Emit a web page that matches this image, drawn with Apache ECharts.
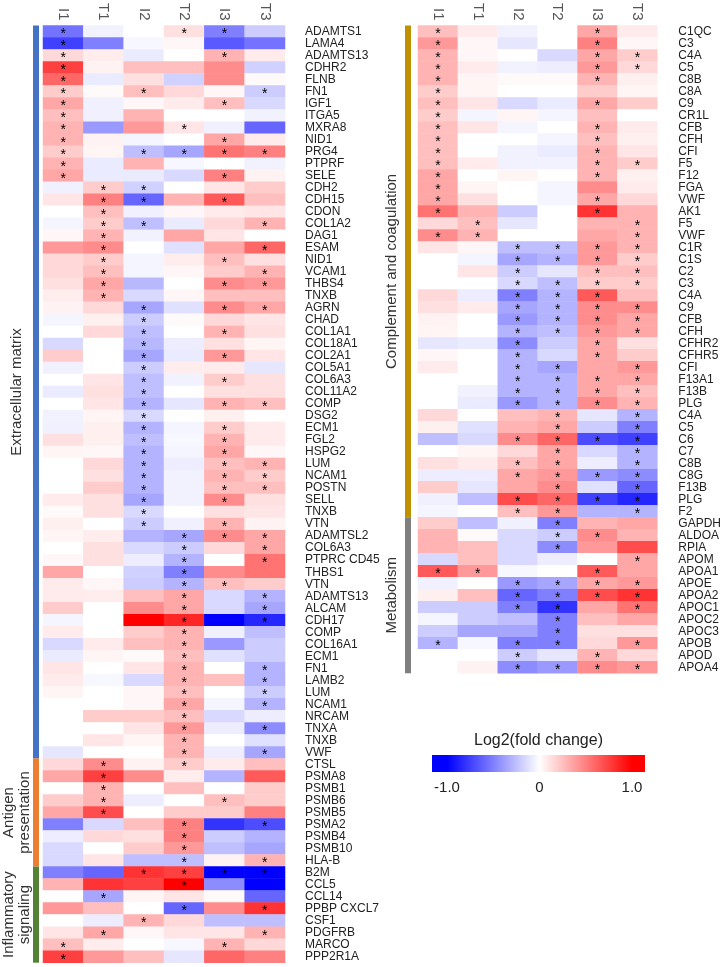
<!DOCTYPE html>
<html><head><meta charset="utf-8">
<script src="https://cdn.jsdelivr.net/npm/echarts@6/dist/echarts.min.js"></script>
<style>html,body{margin:0;padding:0;background:#fff}#c{width:724px;height:967px}</style>
</head><body><div id="c"></div>
<script>
const columns = ['I1','T1','I2','T2','I3','T3'];

const leftGenes = ['ADAMTS1','LAMA4','ADAMTS13','CDHR2','FLNB','FN1','IGF1','ITGA5','MXRA8','NID1','PRG4','PTPRF','SELE',
'CDH2','CDH15','CDON','COL1A2','DAG1','ESAM','NID1','VCAM1','THBS4','TNXB',
'AGRN','CHAD','COL1A1','COL18A1','COL2A1','COL5A1','COL6A3','COL11A2','COMP','DSG2','ECM1','FGL2','HSPG2','LUM','NCAM1','POSTN','SELL','TNXB','VTN',
'ADAMTSL2','COL6A3','PTPRC CD45','THBS1','VTN',
'ADAMTS13','ALCAM','CDH17','COMP','COL16A1','ECM1','FN1','LAMB2','LUM','NCAM1','NRCAM','TNXA','TNXB','VWF',
'CTSL','PSMA8','PSMB1','PSMB6','PSMB5','PSMA2','PSMB4','PSMB10','HLA-B',
'B2M','CCL5','CCL14','PPBP CXCL7','CSF1','PDGFRB','MARCO','PPP2R1A'];

const leftValues = [
[-0.55,-0.05,0,0.12,-0.5,-0.2],
[-0.75,-0.5,-0.03,0.03,-0.65,-0.55],
[0.15,0.07,-0.08,0,0.3,0.08],
[0.75,0.05,0.25,0.25,0.45,-0.18],
[0.6,-0.08,0.12,-0.18,0.45,0.02],
[0.2,0.02,0.25,0.15,0.03,-0.2],
[0.35,-0.06,0.03,0.08,0.25,-0.15],
[0.25,-0.06,0.3,0,0,-0.05],
[0.3,-0.4,0.4,0.1,-0.06,-0.6],
[0.3,0.05,-0.04,0,0.35,0.08],
[0.2,0.04,-0.25,-0.35,0.55,0.5],
[0.3,-0.08,0.3,-0.03,0,-0.05],
[0.35,-0.08,-0.08,-0.15,0.5,0.05],
[-0.06,0.2,-0.18,0,0.1,0.2],
[0.1,0.5,-0.6,0.3,0.65,0.25],
[0,0.25,-0.06,0.03,0.08,0.1],
[-0.04,0.2,-0.25,-0.08,0.15,0.3],
[0.03,0.3,-0.05,0.35,0.1,0],
[0.4,0.45,0,-0.12,0.35,0.6],
[0.15,0.2,-0.04,0.07,0.25,0.12],
[0.15,0.25,-0.04,0.03,0.2,0.3],
[0.12,0.35,-0.28,0,0.45,0.4],
[0.07,0.3,-0.15,0.03,0.25,0.25],
[0.05,0.15,-0.35,-0.12,0.45,0.35],
[-0.04,0.06,-0.2,0.02,0.15,0.1],
[0,0.15,-0.25,0,0.3,0.12],
[-0.15,0,-0.28,-0.07,0.12,0.04],
[0.2,0,-0.35,-0.08,0.4,0.1],
[-0.06,0,-0.2,0.07,0.08,-0.1],
[0,0.1,-0.25,-0.05,0.2,0.12],
[-0.08,0.12,-0.25,0,0.12,0.12],
[0,0.1,-0.3,-0.1,0.3,0.25],
[-0.05,0.04,-0.15,0,0.06,0],
[-0.06,0.06,-0.3,-0.04,0.2,0.08],
[0.12,0.06,-0.25,-0.03,0.3,0.08],
[0.04,0.03,-0.3,-0.04,0.35,0.03],
[0,0.15,-0.3,-0.07,0.25,0.3],
[0,0.12,-0.3,-0.05,0.3,0.2],
[0,0.2,-0.3,-0.05,0.25,0.25],
[0.08,0.12,-0.35,-0.05,0.45,0.12],
[0.02,0.12,-0.15,0,0.12,0.1],
[0.06,0,-0.2,-0.06,0.3,0.05],
[0.04,0.07,-0.3,-0.35,0.45,0.35],
[0,0.12,-0.15,-0.2,0.15,0.35],
[0.03,0.12,-0.07,-0.3,0,0.55],
[0.35,0,-0.18,-0.5,0.45,0.55],
[0.08,0.03,-0.2,-0.3,0.25,0.2],
[0.08,0.07,0.25,0.35,-0.15,-0.3],
[0.2,0,0.45,0.35,-0.15,-0.35],
[-0.04,0,1.0,0.85,-1.0,-0.85],
[0.08,0,0.2,0.3,-0.06,-0.25],
[-0.15,0.08,0.25,0.3,-0.4,-0.2],
[-0.08,0.04,0.02,0.25,-0.12,-0.2],
[0.1,0,0.1,0.3,0,-0.3],
[0.08,-0.03,-0.15,0.3,0.25,-0.3],
[0.04,0,0.03,0.25,0,-0.2],
[0,0,0.03,0.35,-0.04,-0.3],
[0,0.2,0.2,0.25,-0.15,-0.07],
[0,0,0.1,0.4,-0.07,-0.45],
[0,0.1,0.04,0.3,0,-0.12],
[-0.1,0,0,0.3,-0.07,-0.35],
[0.15,0.45,0.05,0.2,0.08,0.25],
[0.35,0.75,0.45,0.07,-0.3,0.65],
[0,0.3,0,0.25,0,0.2],
[0.2,0.3,-0.07,0,0.25,0.2],
[0.35,0.7,0,0.2,0.2,0.5],
[-0.5,-0.15,0.25,0.5,-0.8,-0.7],
[-0.07,0.15,0.12,0.5,-0.2,-0.3],
[-0.15,0,0.2,0.4,-0.25,-0.35],
[-0.15,0.1,-0.25,-0.25,0.05,0.3],
[-0.5,-0.6,0.8,0.75,-1.0,-1.0],
[0.3,0.8,0.75,1.0,-0.45,-1.0],
[0,-0.35,0.04,0.1,0.02,-0.6],
[0.4,0.25,0,-0.6,0.45,0.8],
[0,-0.07,0.3,0.15,-0.25,-0.25],
[0.1,0.35,0.03,0.1,0.1,0.3],
[0.25,0.07,0,-0.03,0.3,0.15],
[0.75,0.4,0.25,-0.1,0.6,0.5]
];

const leftStars = ['100110','100000','100010','100000','100000','101001','100010','100000','100100','100010','101111','100000','100010',
'011000','011010','010000','011001','010000','010001','010010','010001','010011','010000',
'001011','001000','001010','001000','001010','001000','001010','001000','001011','001000','001010','001010','001010','001011','001011','001011','001010','001000','001010',
'000111','000101','000101','000100','000110',
'000101','000101','000101','000100','000100','000100','000101','000101','000101','000101','000100','000101','000100','000101',
'010100','010000','010000','010010','010000','000101','000100','000100','000101',
'001111','000100','010000','000101','001000','010001','100010','100000'];

const rightGenes = ['C1QC','C3','C4A','C5','C8B','C8A','C9','CR1L','CFB','CFH','CFI','F5','F12','FGA','VWF','AK1','F5','VWF',
'C1R','C1S','C2','C3','C4A','C9','CFB','CFH','CFHR2','CFHR5','CFI','F13A1','F13B','PLG',
'C4A','C5','C6','C7','C8B','C8G','F13B','PLG','F2',
'GAPDH','ALDOA','RPIA','APOM','APOA1','APOE','APOA2','APOC1','APOC2','APOC3','APOB','APOD','APOA4'];

const rightValues = [
[0.25,0.08,-0.05,0,0.35,0.08],
[0.4,0.03,-0.1,0,0.5,0.03],
[0.3,0.03,0,-0.15,0.35,0.2],
[0.3,0.08,-0.05,-0.07,0.4,0.15],
[0.3,0.04,0.02,0.02,0.3,0.06],
[0.2,0.04,0,0,0.2,0.04],
[0.25,0.1,-0.15,-0.08,0.35,0.2],
[0.2,-0.04,0.04,-0.04,0.25,0],
[0.25,0.1,-0.04,0,0.3,0.08],
[0.25,0,0,-0.04,0.25,0.06],
[0.25,0,-0.05,-0.08,0.3,0.1],
[0.25,0.08,-0.05,-0.05,0.3,0.2],
[0.35,0,0.04,0,0.3,0.06],
[0.35,0.04,0,-0.04,0.45,0.08],
[0.35,0.12,0,-0.04,0.35,0.15],
[0.55,0.3,-0.2,0,0.8,0.3],
[0.15,0.25,-0.1,0,0.3,0.3],
[0.45,0.3,0,0,0.35,0.3],
[0.1,0.03,-0.25,-0.25,0.4,0.3],
[0,-0.04,-0.35,-0.3,0.4,0.2],
[0,0.1,-0.2,-0.1,0.25,0.25],
[0,0,-0.15,-0.25,0.2,0.2],
[0.15,-0.07,-0.5,-0.3,0.65,0.25],
[0.12,0.08,-0.35,-0.3,0.45,0.45],
[0.05,0,-0.4,-0.3,0.45,0.35],
[0.04,0,-0.3,-0.25,0.4,0.35],
[-0.1,-0.08,-0.45,-0.2,0.35,0.12],
[0.03,0,-0.3,-0.15,0.35,0.2],
[0.08,0,-0.3,-0.35,0.35,0.4],
[0,0,-0.3,-0.3,0.35,0.35],
[0,-0.05,-0.3,-0.3,0.35,0.25],
[0,-0.08,-0.4,-0.3,0.45,0.3],
[0.15,0,0.25,0.3,-0.1,-0.3],
[0.06,-0.12,0.3,0.35,-0.2,-0.5],
[-0.25,-0.15,0.45,0.6,-0.7,-0.75],
[0,0.04,0.15,0.35,-0.15,-0.3],
[0.12,0.08,0.25,0.35,-0.07,-0.3],
[-0.07,-0.07,0.35,0.4,-0.4,-0.45],
[0.2,-0.1,0.35,0.45,-0.12,-0.6],
[-0.06,-0.25,0.7,0.6,-0.75,-0.85],
[-0.04,0,0.25,0.4,-0.3,-0.3],
[0.2,-0.25,-0.06,-0.5,0.3,0.35],
[0.3,0.02,-0.15,-0.2,0.45,0.3],
[0.3,0.25,-0.15,-0.45,0.4,0.7],
[-0.15,0.25,-0.15,-0.07,0,0.35],
[0.65,0.4,-0.03,0,0.65,0.35],
[-0.06,0,-0.4,-0.35,0.35,0.4],
[0.06,0.25,-0.6,-0.5,0.7,0.8],
[-0.2,-0.2,-0.5,-0.8,0.35,0.55],
[-0.04,-0.2,-0.25,-0.5,0.25,0.35],
[-0.2,-0.35,-0.35,-0.5,0.12,0.12],
[-0.3,-0.03,-0.5,-0.5,0.15,0.4],
[0,0,-0.2,-0.1,0.3,0.15],
[0,0.05,-0.45,-0.4,0.45,0.4]
];

const rightStars = ['100010','100010','100011','100011','100010','100000','100010','100000','100010','100010','100010','100011','100010','100000','100010','100010','010001','110001',
'001111','001111','001011','001111','001110','001111','001111','001111','001010','001010','001101','001111','001111','001111',
'000101','000101','001111','000101','001101','001111','000101','001111','001101',
'000100','000110','000100','000001','110010','001111','001111','001101','000100','000100','101101','001010','001111'];

const leftGroups = [['Extracellular matrix',0,60],['Antigen\npresentation',61,69],['Inflammatory\nsignaling',70,77]];
const rightGroups = [['Complement and coagulation',0,40],['Metabolism',41,53]];
const legendTitle = 'Log2(fold change)';
const legendTicks = [-1, 0, 1];
const legendTickLabels = ['-1.0','0','1.0'];

// ---------- styles ----------
const FONT = "'Liberation Sans', Arial, sans-serif";
const leftGroupColors = ['#4472C4','#ED7D31','#548235'];
const rightGroupColors = ['#BF9000','#7F7F7F'];
const ROW_H = 12.06;

function buildCells(values, stars){
  const out = [];
  values.forEach((row, r) => row.forEach((v, c) => out.push([c, r, v, stars[r][c] === '1' ? 1 : 0])));
  return out;
}

const chart = echarts.init(document.getElementById('c'), null, {renderer:'canvas'});

function heat(idx, values, stars){
  return {
    type:'heatmap', xAxisIndex: idx, yAxisIndex: idx,
    data: buildCells(values, stars),
    label:{show:true, formatter: p => p.data[3] ? '*' : '', color:'#000', fontSize:14, fontFamily:FONT, offset:[0,3]},
    itemStyle:{borderWidth:0},
    emphasis:{disabled:true},
    progressive:0, silent:true
  };
}

function groupSeries(idx, groups, colors, barGap, textCx, fontSize){
  return {
    type:'custom', coordinateSystem:'cartesian2d', xAxisIndex: idx, yAxisIndex: idx,
    data: groups.map((g, i) => [0, g[1], g[2], i]),
    encode:{x:0, y:1}, clip:false, silent:true,
    renderItem: (params, api) => {
      const i = api.value(3);
      const h = api.size([0, 1])[1];
      const top = api.coord([0, api.value(1)])[1] - h / 2;
      const bot = api.coord([0, api.value(2)])[1] + h / 2;
      const cs = params.coordSys;
      return {type:'group', children:[
        {type:'rect', shape:{x: cs.x - barGap, y: top, width: 6, height: bot - top}, style:{fill: colors[i]}},
        {type:'text', x: textCx, y: (top + bot) / 2, rotation: Math.PI / 2,
         style:{text: groups[i][0], fill:'#333', fontSize: fontSize, fontFamily: FONT, align:'center', verticalAlign:'middle', lineHeight: fontSize + 1}}
      ]};
    }
  };
}

function xAx(idx){
  return {type:'category', gridIndex: idx, data: columns, position:'top',
    axisLine:{show:false}, axisTick:{show:false}, splitLine:{show:false},
    axisLabel:{rotate:90, fontSize:15, color:'#555', margin:5, fontFamily:FONT}};
}
function yAx(idx, genes, margin){
  return {type:'category', gridIndex: idx, data: genes, inverse:true, position:'right',
    axisLine:{show:false}, axisTick:{show:false}, splitLine:{show:false},
    axisLabel:{fontSize:12, color:'#222', margin: margin, fontFamily:FONT, interval:0}};
}

// legend geometry
const LG = {x0: 432, x1: 645, tMin: 447, tMax: 632, y: 755, h: 17};
const tickX = v => LG.tMin + (v + 1) / 2 * (LG.tMax - LG.tMin);
const off = x => (x - LG.x0) / (LG.x1 - LG.x0);

const graphics = [
  {type:'text', x: (LG.x0 + LG.x1) / 2, y: LG.y - 14, style:{text: legendTitle, fill:'#222', fontSize:16, fontFamily:FONT, align:'center', verticalAlign:'middle'}},
  {type:'rect', shape:{x: LG.x0, y: LG.y, width: LG.x1 - LG.x0, height: LG.h},
   style:{fill: new echarts.graphic.LinearGradient(0,0,1,0,[
     {offset:0, color:'#0000FF'},{offset: off(tickX(-1)), color:'#0000FF'},
     {offset: off(tickX(0)), color:'#FFFFFF'},
     {offset: off(tickX(1)), color:'#FF0000'},{offset:1, color:'#FF0000'}])}}
].concat(legendTicks.map((v, i) => ({type:'text', x: tickX(v), y: LG.y + LG.h + 16,
   style:{text: legendTickLabels[i], fill:'#222', fontSize:15, fontFamily:FONT, align:'center', verticalAlign:'middle'}})));

chart.setOption({
  animation:false,
  backgroundColor:'#fff',
  textStyle:{fontFamily:FONT},
  grid:[
    {left:43, top:22, width:242, height: ROW_H * leftGenes.length},
    {left:418, top:22, width:243, height: ROW_H * rightGenes.length}
  ],
  xAxis:[xAx(0), xAx(1)],
  yAxis:[yAx(0, leftGenes, 20), yAx(1, rightGenes, 21)],
  visualMap:{type:'continuous', show:false, min:-1, max:1, dimension:2, seriesIndex:[0,1],
    inRange:{color:['#0000FF','#FFFFFF','#FF0000']}},
  series:[
    heat(0, leftValues, leftStars),
    heat(1, rightValues, rightStars),
    groupSeries(0, leftGroups, leftGroupColors, 10, 17, 15),
    groupSeries(1, rightGroups, rightGroupColors, 13, 392, 15)
  ],
  graphic: graphics
});
</script></body></html>
